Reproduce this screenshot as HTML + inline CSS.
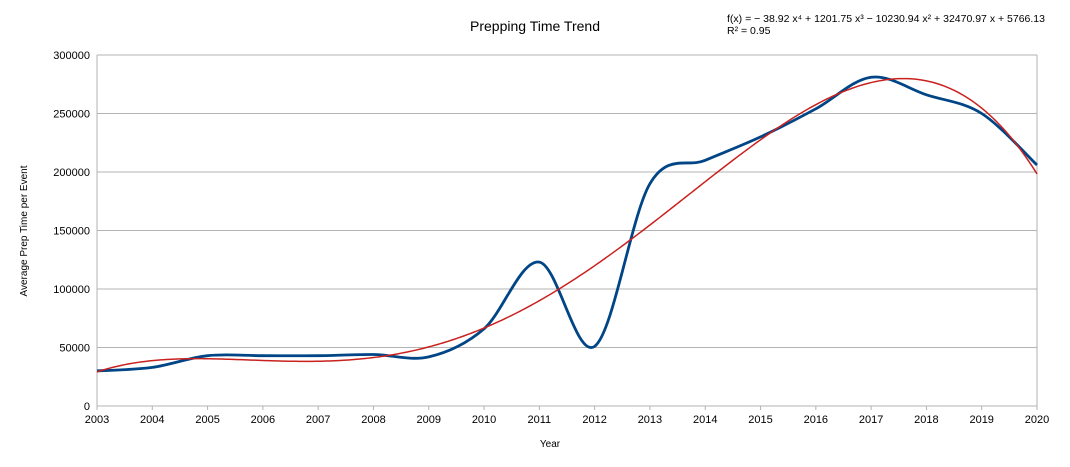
<!DOCTYPE html>
<html><head><meta charset="utf-8">
<style>
html,body{margin:0;padding:0;background:#fff;}
svg{display:block;font-family:"Liberation Sans",sans-serif;}
</style></head>
<body>
<svg id="chart" width="1070" height="467" viewBox="0 0 1070 467" xmlns="http://www.w3.org/2000/svg">
<rect width="1070" height="467" fill="#fff"/>
<text x="535" y="31" text-anchor="middle" font-size="14" fill="#000">Prepping Time Trend</text>
<text x="727" y="22" font-size="10.5" fill="#000">f(x) = − 38.92 x⁴ + 1201.75 x³ − 10230.94 x² + 32470.97 x + 5766.13</text>
<text x="727" y="34" font-size="10.5" fill="#000">R² = 0.95</text>
<text transform="translate(27,231) rotate(-90)" text-anchor="middle" font-size="10" fill="#000">Average Prep Time per Event</text>
<text x="550" y="447" text-anchor="middle" font-size="10" fill="#000">Year</text>
<g id="grid"></g>
<g id="ticks"></g>
<g id="series"></g>
</svg>
<script>
const years = [2003,2004,2005,2006,2007,2008,2009,2010,2011,2012,2013,2014,2015,2016,2017,2018,2019,2020];
const prepTime = [30000,33000,43000,43000,43000,44000,42000,66000,123000,51000,190000,210000,230000,254000,281000,266000,250000,206000];
const trendCoeffs = [5766.13, 32470.97, -10230.94, 1201.75, -38.92];
const yTicks = [0,50000,100000,150000,200000,250000,300000];

const NS = "http://www.w3.org/2000/svg";
const X0 = 97, X1 = 1037, Y0 = 406, Y1 = 55;
const xMin = 2003, xMax = 2020, yMax = 300000;
const sx = v => X0 + (v - xMin) / (xMax - xMin) * (X1 - X0);
const sy = v => Y0 - v / yMax * (Y0 - Y1);

function mk(tag, attrs, parent) {
  const e = document.createElementNS(NS, tag);
  for (const k in attrs) e.setAttribute(k, attrs[k]);
  parent.appendChild(e);
  return e;
}
const grid = document.getElementById('grid');
const ticks = document.getElementById('ticks');
const series = document.getElementById('series');

yTicks.forEach(t => {
  const l = mk('line', {x1: X0, x2: X1, y1: sy(t), y2: sy(t), stroke: '#b3b3b3', 'stroke-width': 1}, grid);
  
  
  const tx = mk('text', {x: X0 - 7, y: sy(t) + 4, 'text-anchor': 'end', 'font-size': 11, fill: '#000'}, ticks);
  tx.textContent = t;
  
  
});
const vl = mk('line', {x1: X0, x2: X0, y1: Y1, y2: Y0, stroke: '#b3b3b3'}, grid);


const vr = mk('line', {x1: X1, x2: X1, y1: Y1, y2: Y0, stroke: '#b3b3b3'}, grid);


years.forEach(y => {
  const tl = mk('line', {x1: sx(y), x2: sx(y), y1: Y0, y2: Y0 + 4, stroke: '#b3b3b3'}, ticks);
  
  
  const tx = mk('text', {x: sx(y), y: Y0 + 17, 'text-anchor': 'middle', 'font-size': 11, fill: '#000'}, ticks);
  tx.textContent = y;
  
  
});

const pts = years.map((y, i) => [sx(y), sy(prepTime[i])]);
let d = `M${pts[0][0]},${pts[0][1]}`;
for (let i = 0; i < pts.length - 1; i++) {
  const p0 = pts[Math.max(0, i - 1)], p1 = pts[i], p2 = pts[i + 1], p3 = pts[Math.min(pts.length - 1, i + 2)];
  const c1 = [p1[0] + (p2[0] - p0[0]) / 6, p1[1] + (p2[1] - p0[1]) / 6];
  const c2 = [p2[0] - (p3[0] - p1[0]) / 6, p2[1] - (p3[1] - p1[1]) / 6];
  d += ` C${c1[0]},${c1[1]} ${c2[0]},${c2[1]} ${p2[0]},${p2[1]}`;
}
const blue = mk('path', {d, fill: 'none', stroke: '#004586', 'stroke-width': 2.8, 'stroke-linejoin': 'round'}, series);



let td = '';
const N = 340;
for (let k = 0; k <= N; k++) {
  const yr = xMin + (xMax - xMin) * k / N;
  const x = yr - xMin + 1;
  let v = 0;
  for (let j = 0; j < trendCoeffs.length; j++) v += trendCoeffs[j] * Math.pow(x, j);
  td += (k ? ' L' : 'M') + sx(yr).toFixed(2) + ',' + sy(v).toFixed(2);
}
const red = mk('path', {d: td, fill: 'none', stroke: '#c9211e', 'stroke-width': 1.5}, series);


</script>
</body></html>
